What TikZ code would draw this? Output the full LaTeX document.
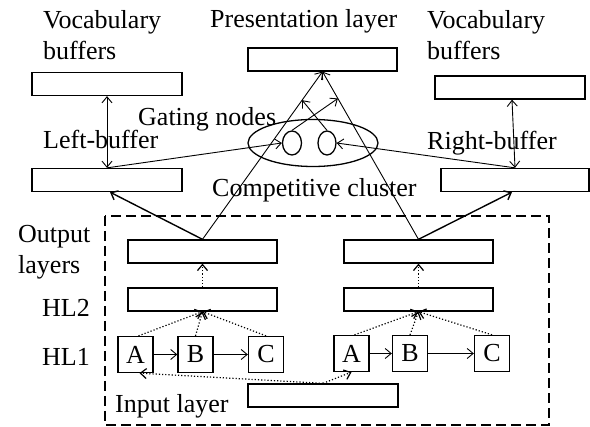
\documentclass[tikz,border=0pt]{standalone}
\usepackage{fontspec}
\setmainfont{Liberation Serif}
\usetikzlibrary{arrows.meta,shapes.geometric,calc}
\newcommand{\labfont}{\fontsize{26}{31}\selectfont}
\begin{document}
\begin{tikzpicture}[x=1pt,y=-1pt,
  bar/.style={draw,line width=1.3pt,minimum width=150pt,minimum height=23pt,inner sep=0pt},
  unit/.style={draw,line width=1.3pt,minimum width=35pt,minimum height=36pt,inner sep=0pt,font=\labfont},
  oval/.style={draw,ellipse,line width=1.3pt,inner sep=0pt},
  lbl/.style={inner sep=0pt,anchor=base west,align=left,font=\labfont},
  conn/.style={line width=0.9pt,-{Straight Barb[length=6pt,width=10pt]}},
  dconn/.style={line width=0.9pt,{Straight Barb[length=6pt,width=10pt]}-{Straight Barb[length=6pt,width=10pt]}},
  tconn/.style={line width=1.4pt,-{Straight Barb[length=6pt,width=10pt]}},
  dots/.style={line width=1.2pt,dotted,-{Straight Barb[length=6pt,width=10pt]}},
  frame/.style={line width=1.3pt,dash pattern=on 10pt off 5pt}
]
\useasboundingbox[fill=white] (0,0) rectangle (590,427);

% boxes
\node[bar] (lvoc) at (107,84) {};
\node[bar] (lbuf) at (107,180) {};
\node[bar,minimum width=149pt] (pres) at (322.5,59.5) {};
\node[bar] (rvoc) at (510,87.5) {};
\node[bar,minimum width=148pt] (rbuf) at (515,180) {};
\node[bar,minimum width=149pt] (lout) at (202.5,251.5) {};
\node[bar,minimum width=149pt] (rout) at (418.5,251.5) {};
\node[bar,minimum width=149pt] (lhl) at (202.5,299.5) {};
\node[bar,minimum width=149pt] (rhl) at (418.5,299.5) {};
\node[bar] (inp) at (323,395.5) {};

\node[unit] (lA) at (135.5,354.5) {A};
\node[unit] (lB) at (195.5,354.5) {B};
\node[unit] (lC) at (266,354.5) {C};
\node[unit] (rA) at (351.5,353.5) {A};
\node[unit] (rB) at (410,353.5) {B};
\node[unit] (rC) at (492,353.5) {C};

% cluster
\node[oval,minimum width=130pt,minimum height=47pt] (cluster) at (313,143) {};
\node[oval,minimum width=19pt,minimum height=24pt] (lg) at (292,143) {};
\node[oval,minimum width=18pt,minimum height=24pt] (rg) at (327,143) {};

% dashed frame
\draw[frame] (105,216) rectangle (549,425);

% labels
\node[lbl] (tvl) at (43,60) {Vocabulary\\buffers};
\node[lbl] (tvr) at (427,60) {Vocabulary\\buffers};
\node[lbl] (tpres) at (210,28) {Presentation layer};
\node[lbl] (tgate) at (138,126) {Gating nodes};
\node[lbl] (tlb) at (43,149) {Left-buffer};
\node[lbl] (trb) at (427,150) {Right-buffer};
\node[lbl] (tcomp) at (212,197) {Competitive cluster};
\node[lbl] (tout) at (18,274) {Output\\layers};
\node[lbl] (thl2) at (42,317) {HL2};
\node[lbl] (thl1) at (42,366) {HL1};
\node[lbl] (tin) at (115,413) {Input layer};

% connectors
\draw[dconn] (lvoc.south) -- (lbuf.north);
\draw[dconn] ([xshift=2pt]rvoc.south) -- (rbuf.north);
\draw[conn] (lbuf.north) -- (lg.west);
\draw[conn] (rbuf.north) -- (rg.east);
\draw[tconn] (lout.north) -- ([xshift=3pt]lbuf.south);
\draw[tconn] (rout.north) -- ([xshift=-3pt]rbuf.south);
\draw[conn] (lout.north) -- coordinate[pos=0.83] (gl) (pres.south);
\draw[conn] (rout.north) -- coordinate[pos=0.84] (gr) (pres.south);
\draw[conn] (lg.north) -- (gr);
\draw[conn] (rg.north) -- (gl);

\draw[dots] (lhl.north) -- (lout.south);
\draw[dots] (rhl.north) -- (rout.south);
\draw[dots] ([xshift=3pt]lA.north) -- (lhl.south);
\draw[dots] (lB.north) -- (lhl.south);
\draw[dots] (lC.north) -- (lhl.south);
\draw[dots] ([xshift=3pt]rA.north) -- (rhl.south);
\draw[dots] (rB.north) -- (rhl.south);
\draw[dots] (rC.north) -- (rhl.south);
\draw[conn] (lA.east) -- (lB.west);
\draw[conn] (lB.east) -- (lC.west);
\draw[conn] (rA.east) -- (rB.west);
\draw[conn] (rB.east) -- (rC.west);
\draw[dots] (inp.north) -- ([xshift=4pt]lA.south);
\draw[dots] (inp.north) -- (rA.south);
\end{tikzpicture}
\end{document}
